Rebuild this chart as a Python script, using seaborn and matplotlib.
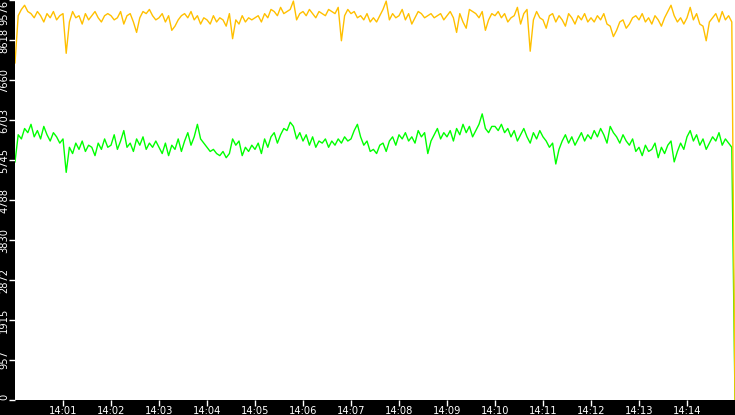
import numpy as np
import pandas as pd
import seaborn as sns
import matplotlib
matplotlib.use("Agg")
import matplotlib.pyplot as plt
import matplotlib.dates as mdates

# values sampled every 4 s from 14:00:00, one row per minute, last value at 14:15:00
orange_vals = [
    8070, 9200, 9350, 9450, 9300, 9250, 9150, 9300, 9200, 9050, 9250, 9150, 9300, 9100, 9200,
    9250, 8300, 9050, 9300, 9150, 9200, 9000, 9250, 9100, 9200, 9300, 9150, 9050, 9200, 9250,
    9200, 9100, 9150, 9300, 9000, 9200, 9250, 9050, 8800, 9150, 9300, 9250, 9350, 9200, 9100,
    9150, 9250, 9050, 9200, 8850, 8950, 9100, 9200, 9250, 9150, 9300, 9100, 9200, 9000, 9150,
    9100, 9000, 9200, 9050, 9150, 9100, 8950, 9250, 8650, 9100, 9000, 9200, 9050, 9150, 9100,
    9150, 9200, 9050, 9250, 9150, 9350, 9300, 9200, 9400, 9250, 9300, 9350, 9550, 9100, 9250,
    9300, 9200, 9350, 9250, 9150, 9300, 9250, 9200, 9350, 9300, 9250, 9400, 8600, 9200, 9350,
    9250, 9300, 9150, 9200, 9100, 9250, 9050, 9150, 9050, 9200, 9350, 9550, 9100, 9250, 9150,
    9200, 9350, 9100, 9250, 9000, 9150, 9300, 9250, 9150, 9200, 9250, 9150, 9200, 9250, 9100,
    9200, 9300, 9150, 8800, 9250, 9050, 8900, 9350, 9300, 9250, 9150, 9300, 8850, 9100, 9250,
    9200, 9300, 9150, 9250, 9050, 9150, 9200, 9400, 9000, 9250, 9350, 8350, 9100, 9300, 9150,
    9100, 8900, 9200, 9250, 9050, 9200, 9100, 8950, 9250, 9150, 9000, 9200, 9100, 9250, 9050,
    9150, 9050, 9200, 9100, 9250, 9000, 8950, 8700, 8850, 9050, 9100, 8900, 9000, 9150, 9200,
    9100, 9250, 9050, 9150, 9000, 9200, 9100, 8950, 9150, 9300, 9450, 9200, 9050, 9150, 9000,
    9150, 9400, 9100, 9250, 9000, 8950, 8600, 9050, 9150, 9250, 9050, 9300, 9100, 9200, 9050,
    0,
]

green_vals = [
    5700, 6350, 6250, 6500, 6400, 6600, 6300, 6450, 6250, 6550, 6350, 6200, 6400, 6300, 6150,
    6250, 5450, 6050, 5900, 6150, 6000, 6200, 5950, 6100, 6050, 5850, 6150, 6000, 6250, 6050,
    6100, 6350, 6000, 6200, 6450, 6050, 6150, 5950, 6250, 6100, 6300, 6000, 6150, 6050, 6200,
    6050, 5900, 6150, 5850, 6100, 6000, 6250, 5950, 6200, 6400, 6100, 6300, 6600, 6250, 6150,
    6050, 5950, 6000, 5900, 5850, 5950, 5800, 5900, 6250, 6100, 6200, 5850, 6050, 5950, 6100,
    6000, 6150, 5900, 6250, 6050, 6300, 6400, 6150, 6350, 6500, 6450, 6650, 6550, 6250, 6400,
    6200, 6350, 6100, 6300, 6050, 6200, 6150, 6250, 6050, 6200, 6100, 6250, 6150, 6300, 6200,
    6250, 6450, 6600, 6300, 6100, 6200, 5950, 6000, 5900, 6100, 6150, 5950, 6200, 6300, 6100,
    6350, 6250, 6400, 6200, 6300, 6150, 6450, 6300, 6400, 5900, 6200, 6350, 6500, 6250, 6400,
    6300, 6450, 6200, 6500, 6350, 6600, 6400, 6550, 6300, 6450, 6600, 6850, 6500, 6400, 6550,
    6550, 6450, 6600, 6400, 6500, 6300, 6450, 6200, 6350, 6500, 6300, 6150, 6400, 6250, 6450,
    6300, 6200, 6050, 6150, 5650, 6000, 6200, 6350, 6150, 6300, 6100, 6250, 6400, 6200, 6350,
    6250, 6450, 6300, 6500, 6350, 6150, 6550, 6400, 6300, 6150, 6350, 6200, 6100, 6250, 5950,
    6050, 5850, 6100, 5950, 6000, 6150, 5800, 6050, 5900, 6100, 6200, 5700, 5950, 6150, 6000,
    6300, 6450, 6200, 6350, 6100, 6250, 6000, 6150, 6300, 6200, 6400, 6100, 6250, 6150, 6050,
    0,
]

y_ticks = [0, 957, 1915, 2872, 3830, 4788, 5745, 6703, 7660, 8618, 9576]

times = pd.date_range("2024-01-01 14:00:00", periods=len(orange_vals), freq="4s")
df = pd.DataFrame({"time": times, "orange": orange_vals, "green": green_vals})

fig = plt.figure(figsize=(7.35, 4.15), dpi=100, facecolor="black")
ax = fig.add_axes([15 / 735, 15 / 415, 720 / 735, 400 / 415])
ax.set_facecolor("white")

sns.lineplot(data=df, x="time", y="green", color="#00ff00", lw=1, ax=ax)
sns.lineplot(data=df, x="time", y="orange", color="#ffc000", lw=1, ax=ax)

ax.set_xlim(times[0], times[-1])
ax.set_ylim(0, 9576)
ax.set_yticks(y_ticks)
ax.set_yticklabels([str(t) for t in y_ticks])
ax.xaxis.set_major_locator(mdates.MinuteLocator())
ax.xaxis.set_major_formatter(mdates.DateFormatter("%H:%M"))
lo, hi = ax.get_xlim()
ax.set_xticks([t for t in ax.get_xticks() if lo + 1e-4 < t < hi - 1e-4])

for s in ax.spines.values():
    s.set_visible(False)
ax.tick_params(axis="both", colors="white", labelcolor="white", labelsize=7.1,
               length=4, width=1, pad=0.5)
ax.tick_params(axis="y", labelrotation=90, length=4, pad=0.3)
ylabs = ax.get_yticklabels()
for lab in ylabs:
    lab.set_va("center")
# end labels kept inside the strip
ylabs[0].set_va("bottom")
ylabs[-1].set_va("top")
ax.set_xlabel("")
ax.set_ylabel("")
if ax.get_legend():
    ax.get_legend().remove()

fig.savefig("out.png", dpi=100, facecolor="black")
